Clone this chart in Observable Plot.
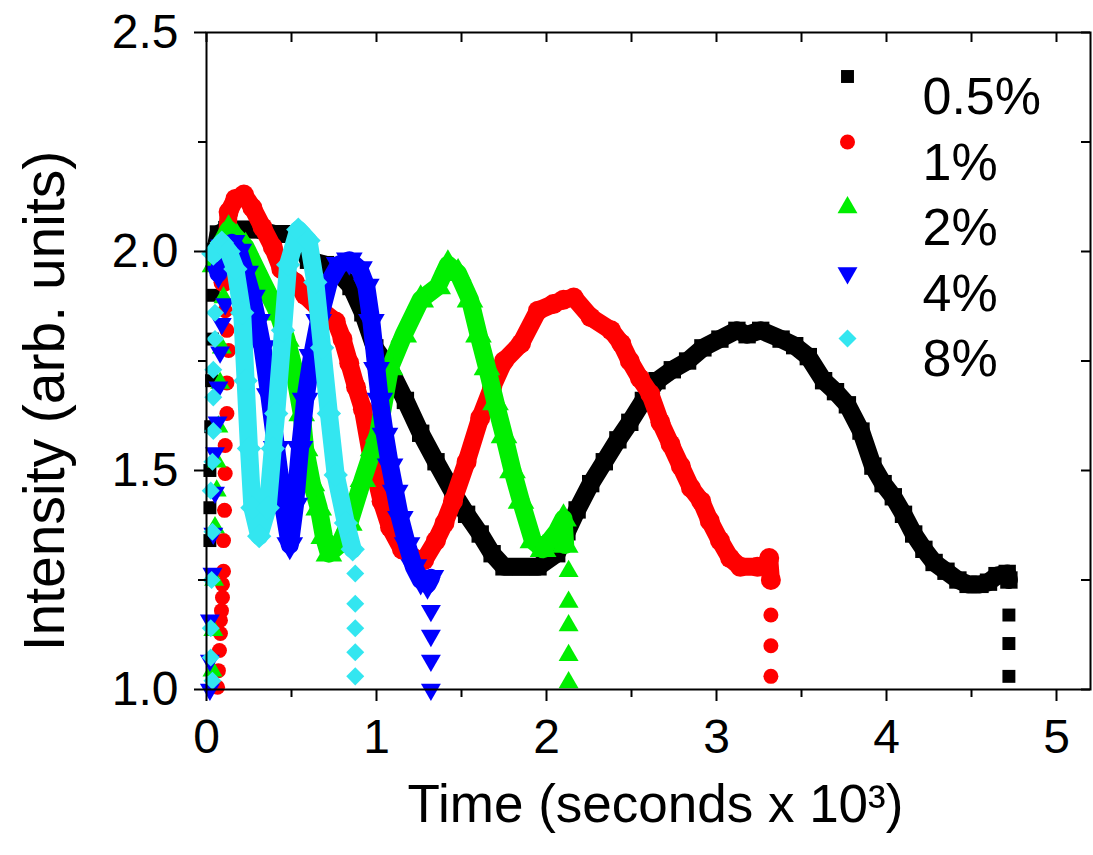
<!DOCTYPE html>
<html><head><meta charset="utf-8">
<script src="https://cdn.jsdelivr.net/npm/d3@7"></script>
<script src="https://cdn.jsdelivr.net/npm/@observablehq/plot@0.6"></script>
<style>html,body{margin:0;padding:0;background:#fff;}</style>
</head><body><div id="chart"></div>
<script>
// ---- data (time in 10^3 s, intensity in arb. units) ----
const seriesNames = ["0.5%", "1%", "2%", "4%", "8%"];
const seriesColors = ["#000000", "#ff0000", "#00ee00", "#0000ff", "#33e6f0"];

const xMajorTicks = [0, 1, 2, 3, 4, 5];
const xMinorTicks = [0.5, 1.5, 2.5, 3.5, 4.5];
const yMajorTicks = [1.0, 1.5, 2.0, 2.5];
const yMinorTicks = [1.25, 1.75, 2.25];

const trace05 = [[0.05,2.00],[0.07,2.04],[0.12,2.05],[0.2,2.05],[0.3,2.05],[0.4,2.04],[0.5,2.04],[0.55,2.02],[0.6,1.98],[0.7,1.97],[0.78,1.95],[0.85,1.92],[0.92,1.86],[0.99,1.78],[1.08,1.73],[1.17,1.66],[1.26,1.585],[1.35,1.52],[1.45,1.45],[1.53,1.40],[1.61,1.355],[1.68,1.31],[1.75,1.28],[1.85,1.28],[1.95,1.28],[2.06,1.31],[2.12,1.36],[2.18,1.41],[2.26,1.47],[2.34,1.52],[2.42,1.57],[2.49,1.61],[2.57,1.66],[2.65,1.705],[2.74,1.73],[2.83,1.75],[2.92,1.78],[3.02,1.80],[3.12,1.82],[3.18,1.81],[3.26,1.82],[3.38,1.80],[3.46,1.785],[3.54,1.76],[3.63,1.705],[3.70,1.68],[3.77,1.65],[3.85,1.59],[3.92,1.51],[3.98,1.47],[4.04,1.44],[4.10,1.40],[4.16,1.355],[4.22,1.32],[4.28,1.29],[4.35,1.27],[4.42,1.25],[4.48,1.24],[4.55,1.24],[4.60,1.245],[4.65,1.26],[4.71,1.265],[4.72,1.25]];
const head05 = [[0.02,1.34],[0.02,1.415],[0.02,1.50],[0.025,1.60],[0.03,1.705],[0.035,1.80],[0.04,1.90]];
const tail05 = [[4.72,1.17],[4.72,1.105],[4.72,1.03]];

const trace1 = [[0.10,1.93],[0.12,2.02],[0.13,2.09],[0.17,2.12],[0.22,2.13],[0.27,2.10],[0.33,2.055],[0.39,2.01],[0.44,1.96],[0.52,1.93],[0.58,1.90],[0.66,1.87],[0.76,1.84],[0.80,1.80],[0.84,1.745],[0.88,1.69],[0.92,1.64],[0.97,1.53],[1.03,1.43],[1.08,1.37],[1.15,1.32],[1.22,1.30],[1.28,1.295],[1.35,1.34],[1.40,1.38],[1.45,1.43],[1.53,1.52],[1.61,1.62],[1.68,1.69],[1.75,1.75],[1.85,1.79],[1.95,1.865],[2.04,1.88],[2.10,1.89],[2.16,1.895],[2.26,1.85],[2.38,1.82],[2.44,1.79],[2.49,1.75],[2.55,1.71],[2.61,1.675],[2.67,1.61],[2.73,1.56],[2.79,1.51],[2.85,1.46],[2.91,1.43],[2.96,1.385],[3.02,1.34],[3.08,1.30],[3.14,1.28],[3.24,1.28],[3.29,1.285],[3.31,1.30],[3.32,1.25]];
const head1 = [[0.065,1.005],[0.07,1.043],[0.076,1.089],[0.082,1.128],[0.082,1.158],[0.088,1.18],[0.094,1.21],[0.094,1.24],[0.1,1.27],[0.1,1.34],[0.106,1.409],[0.11,1.493],[0.11,1.557],[0.12,1.63],[0.12,1.70],[0.13,1.774],[0.12,1.82],[0.11,1.865]];
const tail1 = [[3.32,1.17],[3.32,1.10],[3.32,1.03]];

const trace2 = [[0.05,1.97],[0.09,2.02],[0.13,2.05],[0.18,2.03],[0.23,2.01],[0.28,1.97],[0.33,1.93],[0.42,1.86],[0.47,1.80],[0.51,1.74],[0.56,1.63],[0.58,1.55],[0.62,1.47],[0.66,1.415],[0.69,1.35],[0.72,1.31],[0.78,1.33],[0.84,1.38],[0.92,1.48],[0.98,1.55],[1.01,1.584],[1.08,1.735],[1.16,1.81],[1.26,1.89],[1.36,1.92],[1.42,1.97],[1.48,1.95],[1.55,1.89],[1.60,1.81],[1.65,1.735],[1.70,1.655],[1.75,1.58],[1.80,1.50],[1.85,1.43],[1.92,1.34],[1.98,1.32],[2.06,1.36],[2.10,1.39],[2.11,1.33]];
const head2 = [[0.035,1.043],[0.04,1.135],[0.045,1.25],[0.05,1.37],[0.06,1.454],[0.06,1.52],[0.07,1.60],[0.08,1.70],[0.09,1.78],[0.1,1.895]];
const tail2 = [[2.13,1.27],[2.13,1.20],[2.13,1.146],[2.13,1.078],[2.13,1.016]];

const trace4 = [[0.07,1.95],[0.10,2.01],[0.15,2.02],[0.19,2.00],[0.23,1.95],[0.27,1.895],[0.30,1.84],[0.33,1.78],[0.37,1.67],[0.41,1.55],[0.44,1.46],[0.46,1.40],[0.49,1.33],[0.52,1.42],[0.55,1.55],[0.58,1.66],[0.62,1.76],[0.66,1.84],[0.72,1.93],[0.78,1.97],[0.84,1.98],[0.90,1.96],[0.94,1.92],[0.97,1.84],[1.00,1.73],[1.02,1.66],[1.05,1.58],[1.08,1.51],[1.11,1.45],[1.14,1.39],[1.18,1.33],[1.22,1.28],[1.26,1.25],[1.30,1.24],[1.32,1.255]];
const head4 = [[0.02,1.0],[0.02,1.066],[0.02,1.158],[0.035,1.265],[0.04,1.356],[0.05,1.45],[0.05,1.54],[0.065,1.61],[0.07,1.69],[0.08,1.77],[0.09,1.835],[0.11,1.88]];
const tail4 = [[1.32,1.18],[1.32,1.123],[1.32,1.066],[1.32,1.0]];

const trace8 = [[0.04,1.995],[0.09,2.02],[0.13,2.00],[0.17,1.96],[0.21,1.86],[0.23,1.705],[0.25,1.55],[0.27,1.415],[0.31,1.35],[0.36,1.415],[0.39,1.55],[0.41,1.63],[0.45,1.82],[0.48,1.97],[0.54,2.05],[0.60,2.025],[0.64,1.93],[0.68,1.78],[0.72,1.63],[0.76,1.49],[0.82,1.38],[0.86,1.32]];
const head8 = [[0.035,1.02],[0.025,1.073],[0.025,1.14],[0.03,1.25],[0.035,1.36],[0.025,1.454],[0.035,1.52],[0.04,1.59],[0.04,1.667],[0.04,1.73],[0.05,1.80],[0.05,1.86]];
const tail8 = [[0.875,1.265],[0.875,1.196],[0.875,1.14],[0.875,1.085],[0.875,1.03]];

// ---- symbols ----
const triDown = {draw(ctx, size) {
  const y = Math.sqrt(size / (Math.sqrt(3) * 3));
  ctx.moveTo(0, 2 * y); ctx.lineTo(Math.sqrt(3) * y, -y); ctx.lineTo(-Math.sqrt(3) * y, -y); ctx.closePath();
}};
const diamond = {draw(ctx, size) {
  const s = Math.sqrt(size / 2);
  ctx.moveTo(0, -s); ctx.lineTo(s, 0); ctx.lineTo(0, s); ctx.lineTo(-s, 0); ctx.closePath();
}};
const seriesSymbols = ["square", "circle", "triangle", triDown, diamond];
const seriesR = [7.3, 7.5, 7.4, 7.4, 7.2];

const traces = [trace05, trace1, trace2, trace4, trace8];
const heads = [head05, head1, head2, head4, head8];
const tails = [tail05, tail1, tail2, tail4, tail8];

// ---- layout ----
const W = 1093, H = 855, mL = 206, mR = 3, mT = 32, mB = 166;
const fw = W - mL - mR, fh = H - mT - mB;
const font = "'Liberation Sans', Arial, Helvetica, sans-serif";

const marks = [];
seriesNames.forEach((name, i) => {
  const acc = {x: d => d[0], y: d => d[1]};
  marks.push(Plot.line(traces[i], {...acc, stroke: seriesColors[i], strokeWidth: 18, strokeLinejoin: "round", strokeLinecap: "round"}));
  marks.push(Plot.dot(traces[i], {...acc, symbol: seriesSymbols[i], fill: seriesColors[i], r: seriesR[i] + 2.5}));
  marks.push(Plot.dot(heads[i].concat(tails[i]), {...acc, symbol: seriesSymbols[i], fill: seriesColors[i], r: seriesR[i]}));
});

// legend
seriesNames.forEach((name, i) => {
  const dy = 44 + i * 65.5;
  marks.push(Plot.dot([name], {frameAnchor: "top-right", dx: -243, dy, symbol: seriesSymbols[i], fill: seriesColors[i], r: seriesR[i]}));
  marks.push(Plot.text([name], {text: d => d, frameAnchor: "top-right", dx: -168, dy: dy + 1, textAnchor: "start", fontSize: 52, fill: "black"}));
});

// axes
marks.push(
  Plot.frame({stroke: "black", strokeWidth: 2}),
  Plot.axisX({ticks: xMajorTicks, tickSize: 12, tickPadding: 17, fontSize: 48, strokeWidth: 2, label: null, tickFormat: d3.format("d"), fill: "black"}),
  Plot.axisY({ticks: yMajorTicks, tickSize: 12, tickPadding: 16, fontSize: 48, strokeWidth: 2, label: null, tickFormat: d3.format(".1f"), fill: "black"}),
  Plot.tickX(xMinorTicks, {x: d => d, insetTop: fh, insetBottom: -8, stroke: "black", strokeWidth: 2}),
  Plot.tickY(yMinorTicks, {y: d => d, insetRight: fw, insetLeft: -8, stroke: "black", strokeWidth: 2}),
  Plot.tickX(xMajorTicks.concat(xMinorTicks), {x: d => d, insetBottom: fh - 10, stroke: "black", strokeWidth: 2}),
  Plot.tickY(yMajorTicks.concat(yMinorTicks), {y: d => d, insetLeft: fw - 9, stroke: "black", strokeWidth: 2}),
  Plot.text(["Time (seconds x 10\u00B3)"], {text: d => d, frameAnchor: "bottom", textAnchor: "middle", dx: 7, dy: 132, fontSize: 53, fill: "black"}),
  Plot.text(["Intensity (arb. units)"], {text: d => d, frameAnchor: "left", textAnchor: "middle", dx: -161, dy: 40, rotate: -90, fontSize: 57, fill: "black"})
);

const chart = Plot.plot({
  width: W, height: H,
  marginLeft: mL, marginRight: mR, marginTop: mT, marginBottom: mB,
  x: {domain: [0, 5.2]},
  y: {domain: [1.0, 2.5]},
  style: {fontFamily: font, background: "white", color: "black", overflow: "visible"},
  marks
});
document.getElementById("chart").appendChild(chart);
</script>
</body></html>
